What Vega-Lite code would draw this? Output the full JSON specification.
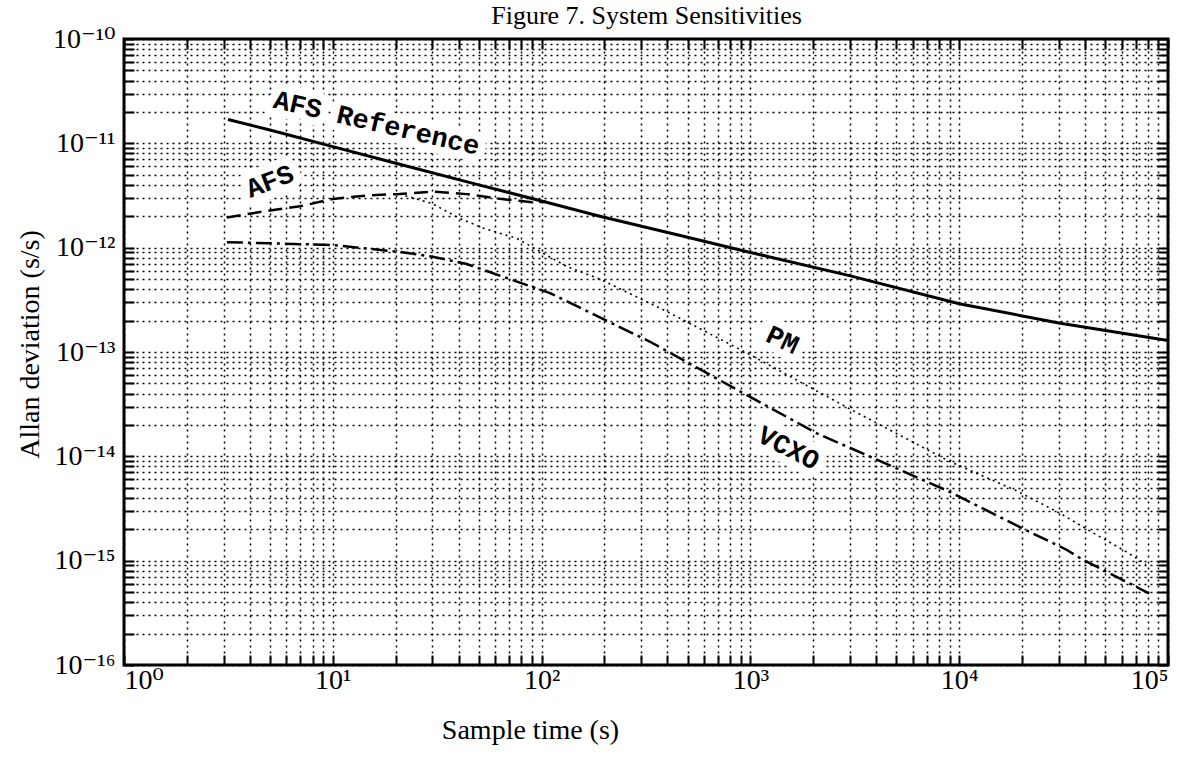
{
  "$schema": "https://vega.github.io/schema/vega-lite/v6.json",
  "width": 1044,
  "height": 626,
  "autosize": {"type": "none"},
  "padding": {"left": 124, "top": 39, "right": 12, "bottom": 100},
  "background": "white",
  "config": {
    "view": {"stroke": "black", "strokeWidth": 3},
    "axis": {
      "domain": false,
      "gridColor": "black",
      "gridDash": [2, 4],
      "gridWidth": 1.5,
      "gridOpacity": 1,
      "tickColor": "black",
      "tickSize": -10,
      "tickWidth": 2,
      "labelFont": "Liberation Serif, DejaVu Serif",
      "labelFontSize": 28,
      "labelColor": "black",
      "labelOverlap": false,
      "titleFont": "Liberation Serif, DejaVu Serif",
      "titleFontSize": 28,
      "titleFontWeight": "normal",
      "titleColor": "black"
    }
  },
  "datasets": {
    "curves": [
      {"series": "AFS Reference", "tau": 3.15, "adev": 1.69e-11},
      {"series": "AFS Reference", "tau": 5, "adev": 1.34e-11},
      {"series": "AFS Reference", "tau": 10, "adev": 9.3e-12},
      {"series": "AFS Reference", "tau": 20.9, "adev": 6.3e-12},
      {"series": "AFS Reference", "tau": 50, "adev": 4.0e-12},
      {"series": "AFS Reference", "tau": 100, "adev": 2.8e-12},
      {"series": "AFS Reference", "tau": 190, "adev": 2.0e-12},
      {"series": "AFS Reference", "tau": 500, "adev": 1.26e-12},
      {"series": "AFS Reference", "tau": 1000, "adev": 9.0e-13},
      {"series": "AFS Reference", "tau": 2980, "adev": 5.4e-13},
      {"series": "AFS Reference", "tau": 10000, "adev": 2.9e-13},
      {"series": "AFS Reference", "tau": 30000, "adev": 1.9e-13},
      {"series": "AFS Reference", "tau": 100000, "adev": 1.29e-13},
      {"series": "AFS", "tau": 3.11, "adev": 1.95e-12},
      {"series": "AFS", "tau": 4.83, "adev": 2.25e-12},
      {"series": "AFS", "tau": 6.95, "adev": 2.49e-12},
      {"series": "AFS", "tau": 10, "adev": 2.93e-12},
      {"series": "AFS", "tau": 14.5, "adev": 3.16e-12},
      {"series": "AFS", "tau": 20.9, "adev": 3.27e-12},
      {"series": "AFS", "tau": 30, "adev": 3.44e-12},
      {"series": "AFS", "tau": 43.8, "adev": 3.26e-12},
      {"series": "AFS", "tau": 63, "adev": 2.94e-12},
      {"series": "AFS", "tau": 90.6, "adev": 2.72e-12},
      {"series": "AFS", "tau": 105, "adev": 2.75e-12},
      {"series": "PM", "tau": 20.9, "adev": 3.27e-12},
      {"series": "PM", "tau": 30, "adev": 2.64e-12},
      {"series": "PM", "tau": 40.5, "adev": 1.91e-12},
      {"series": "PM", "tau": 52, "adev": 1.55e-12},
      {"series": "PM", "tau": 76, "adev": 1.23e-12},
      {"series": "PM", "tau": 101, "adev": 8.9e-13},
      {"series": "PM", "tau": 132, "adev": 6.6e-13},
      {"series": "PM", "tau": 190, "adev": 5.0e-13},
      {"series": "PM", "tau": 396, "adev": 2.46e-13},
      {"series": "PM", "tau": 989, "adev": 9.5e-14},
      {"series": "PM", "tau": 2980, "adev": 2.86e-14},
      {"series": "PM", "tau": 8960, "adev": 8.97e-15},
      {"series": "PM", "tau": 18700, "adev": 4.7e-15},
      {"series": "PM", "tau": 30100, "adev": 2.88e-15},
      {"series": "PM", "tau": 43300, "adev": 1.87e-15},
      {"series": "PM", "tau": 63000, "adev": 1.22e-15},
      {"series": "PM", "tau": 78500, "adev": 9.2e-16},
      {"series": "VCXO", "tau": 3.11, "adev": 1.13e-12},
      {"series": "VCXO", "tau": 10, "adev": 1.06e-12},
      {"series": "VCXO", "tau": 20.9, "adev": 9.1e-13},
      {"series": "VCXO", "tau": 30, "adev": 8.2e-13},
      {"series": "VCXO", "tau": 43.8, "adev": 6.97e-13},
      {"series": "VCXO", "tau": 63, "adev": 5.4e-13},
      {"series": "VCXO", "tau": 109, "adev": 3.69e-13},
      {"series": "VCXO", "tau": 329, "adev": 1.26e-13},
      {"series": "VCXO", "tau": 820, "adev": 4.6e-14},
      {"series": "VCXO", "tau": 2070, "adev": 1.67e-14},
      {"series": "VCXO", "tau": 4290, "adev": 8.8e-15},
      {"series": "VCXO", "tau": 8950, "adev": 4.6e-15},
      {"series": "VCXO", "tau": 20900, "adev": 1.96e-15},
      {"series": "VCXO", "tau": 32500, "adev": 1.28e-15},
      {"series": "VCXO", "tau": 38800, "adev": 1.03e-15},
      {"series": "VCXO", "tau": 63000, "adev": 6.3e-16},
      {"series": "VCXO", "tau": 81100, "adev": 4.85e-16}
    ],
    "labels": [
      {"name": "AFS Reference", "tau": 16.2, "adev": 1.55e-11},
      {"name": "AFS", "tau": 5.0, "adev": 4.28e-12},
      {"name": "PM", "tau": 1422, "adev": 1.29e-13},
      {"name": "VCXO", "tau": 1520, "adev": 1.19e-14}
    ]
  },
  "resolve": {"axis": {"x": "independent", "y": "independent"}},
  "layer": [
    {
      "data": {"name": "curves"},
      "transform": [{"filter": "datum.series === 'AFS Reference'"}],
      "mark": {"type": "line", "color": "black", "strokeWidth": 3},
      "encoding": {
        "x": {
          "field": "tau", "type": "quantitative",
          "scale": {"type": "log", "domain": [1, 100000], "nice": false},
          "axis": {
            "orient": "bottom",
            "title": "Sample time (s)",
            "grid": true,
            "tickCount": 50,
            "labelPadding": 11,
            "labelBaseline": "top",
            "titleX": 406,
            "titleY": 73,
            "titleBaseline": "alphabetic",
            "titleAnchor": "start",
            "titleAlign": "center",
            "labelExpr": "abs(log(datum.value)/LN10 - round(log(datum.value)/LN10)) < 0.001 ? '10' + replace(replace(replace(replace(replace(replace(replace(replace('' + round(log(datum.value)/LN10), '-', '⁻'), regexp('0','g'), '⁰'), regexp('1','g'), '¹'), '2', '²'), '3', '³'), '4', '⁴'), '5', '⁵'), '6', '⁶') : ''"
          }
        },
        "y": {
          "field": "adev", "type": "quantitative",
          "scale": {"type": "log", "domain": [1e-16, 1e-10], "nice": false},
          "axis": {
            "orient": "left",
            "title": "Allan deviation (s/s)",
            "grid": true,
            "tickCount": 60,
            "labelPadding": 19,
            "labelBaseline": "middle",
            "titleX": -86,
            "titleY": 305,
            "titleAngle": -90,
            "titleBaseline": "alphabetic",
            "titleAlign": "center",
            "labelExpr": "abs(log(datum.value)/LN10 - round(log(datum.value)/LN10)) < 0.001 ? '10' + replace(replace(replace(replace(replace(replace(replace(replace('' + round(log(datum.value)/LN10), '-', '⁻'), regexp('0','g'), '⁰'), regexp('1','g'), '¹'), '2', '²'), '3', '³'), '4', '⁴'), '5', '⁵'), '6', '⁶') : ''"
          }
        }
      }
    },
    {
      "data": {"name": "curves"},
      "mark": {"type": "line", "opacity": 0},
      "encoding": {
        "x": {
          "field": "tau", "type": "quantitative",
          "axis": {
            "orient": "top",
            "title": "Figure 7. System Sensitivities",
            "titleFontSize": 26,
            "titleX": 522,
            "titleY": -16,
            "titleAnchor": "start",
            "titleAlign": "center",
            "titleBaseline": "alphabetic",
            "labels": false,
            "grid": false,
            "tickCount": 50
          }
        },
        "y": {
          "field": "adev", "type": "quantitative",
          "axis": {"orient": "right", "title": null, "labels": false, "grid": false, "tickCount": 60}
        },
        "detail": {"field": "series"}
      }
    },
    {
      "data": {"name": "curves"},
      "transform": [{"filter": "datum.series === 'AFS'"}],
      "mark": {"type": "line", "color": "black", "strokeWidth": 2.5, "strokeDash": [14, 7]},
      "encoding": {
        "x": {"field": "tau", "type": "quantitative", "axis": null},
        "y": {"field": "adev", "type": "quantitative", "axis": null}
      }
    },
    {
      "data": {"name": "curves"},
      "transform": [{"filter": "datum.series === 'PM'"}],
      "mark": {"type": "line", "color": "black", "strokeWidth": 1.6, "strokeDash": [2, 4]},
      "encoding": {
        "x": {"field": "tau", "type": "quantitative", "axis": null},
        "y": {"field": "adev", "type": "quantitative", "axis": null}
      }
    },
    {
      "data": {"name": "curves"},
      "transform": [{"filter": "datum.series === 'VCXO'"}],
      "mark": {"type": "line", "color": "black", "strokeWidth": 2.5, "strokeDash": [16, 5, 3, 5]},
      "encoding": {
        "x": {"field": "tau", "type": "quantitative", "axis": null},
        "y": {"field": "adev", "type": "quantitative", "axis": null}
      }
    },
    {
      "data": {"name": "labels"},
      "transform": [{"filter": "datum.name === 'AFS Reference'"}],
      "encoding": {
        "x": {"field": "tau", "type": "quantitative", "axis": null},
        "y": {"field": "adev", "type": "quantitative", "axis": null},
        "text": {"field": "name"}
      },
      "layer": [
        {"mark": {"type": "text", "angle": 13, "font": "Liberation Mono", "fontWeight": "bold", "fontSize": 27, "stroke": "white", "strokeWidth": 16, "strokeJoin": "round", "fill": "white"}},
        {"mark": {"type": "text", "angle": 13, "font": "Liberation Mono", "fontWeight": "bold", "fontSize": 27, "fill": "black"}}
      ]
    },
    {
      "data": {"name": "labels"},
      "transform": [{"filter": "datum.name === 'AFS'"}],
      "encoding": {
        "x": {"field": "tau", "type": "quantitative", "axis": null},
        "y": {"field": "adev", "type": "quantitative", "axis": null},
        "text": {"field": "name"}
      },
      "layer": [
        {"mark": {"type": "text", "angle": -21, "font": "Liberation Mono", "fontWeight": "bold", "fontSize": 27, "stroke": "white", "strokeWidth": 16, "strokeJoin": "round", "fill": "white"}},
        {"mark": {"type": "text", "angle": -21, "font": "Liberation Mono", "fontWeight": "bold", "fontSize": 27, "fill": "black"}}
      ]
    },
    {
      "data": {"name": "labels"},
      "transform": [{"filter": "datum.name === 'PM'"}],
      "encoding": {
        "x": {"field": "tau", "type": "quantitative", "axis": null},
        "y": {"field": "adev", "type": "quantitative", "axis": null},
        "text": {"field": "name"}
      },
      "layer": [
        {"mark": {"type": "text", "angle": 25, "font": "Liberation Mono", "fontWeight": "bold", "fontSize": 27, "stroke": "white", "strokeWidth": 16, "strokeJoin": "round", "fill": "white"}},
        {"mark": {"type": "text", "angle": 25, "font": "Liberation Mono", "fontWeight": "bold", "fontSize": 27, "fill": "black"}}
      ]
    },
    {
      "data": {"name": "labels"},
      "transform": [{"filter": "datum.name === 'VCXO'"}],
      "encoding": {
        "x": {"field": "tau", "type": "quantitative", "axis": null},
        "y": {"field": "adev", "type": "quantitative", "axis": null},
        "text": {"field": "name"}
      },
      "layer": [
        {"mark": {"type": "text", "angle": 27, "font": "Liberation Mono", "fontWeight": "bold", "fontSize": 27, "stroke": "white", "strokeWidth": 16, "strokeJoin": "round", "fill": "white"}},
        {"mark": {"type": "text", "angle": 27, "font": "Liberation Mono", "fontWeight": "bold", "fontSize": 27, "fill": "black"}}
      ]
    }
  ]
}
